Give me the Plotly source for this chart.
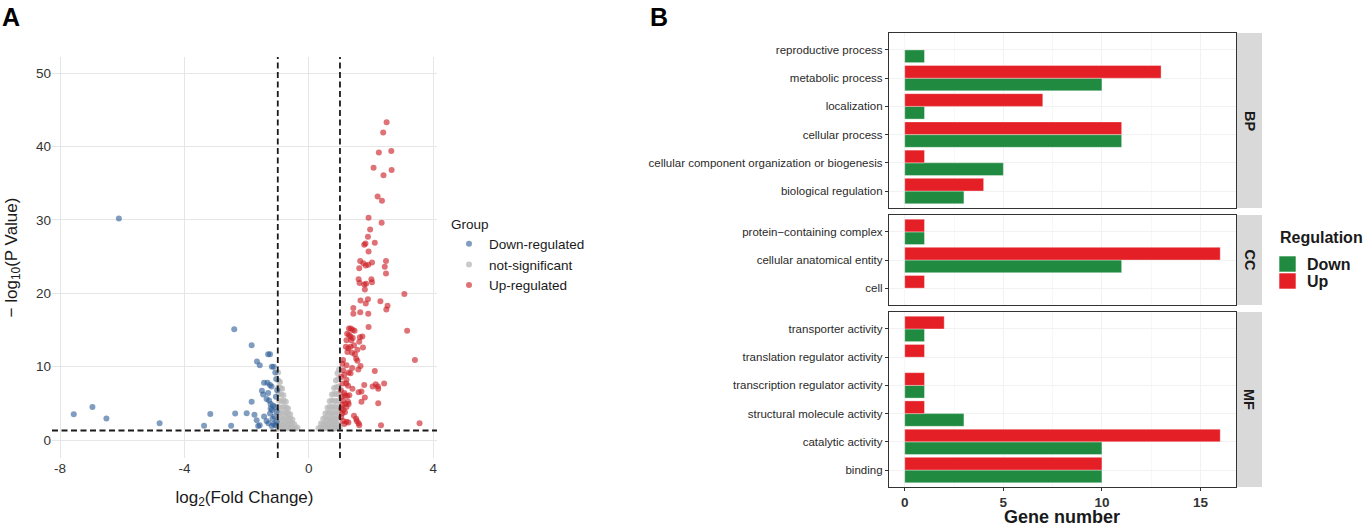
import plotly.graph_objects as go

# ---- panel A: volcano data (log2 fold change, -log10 p) ----
down_x = [-6.11, -7.56, -6.96, -6.51, -4.80, -3.37, -3.17, -2.40, -2.50, -2.37, -2.00, -1.84,
          -1.84, -1.67, -1.58, -1.75, -1.63, -1.31, -1.25, -1.19, -1.13, -1.08, -1.05, -1.44,
          -1.33, -1.25, -1.20, -1.51, -1.47, -1.36, -1.28, -1.23, -1.15, -1.08, -1.19, -1.25,
          -1.11, -1.44, -1.36, -1.30, -1.13, -1.04, -1.06, -1.02, -1.68, -1.58, -1.19, -1.08,
          -1.17, -1.04, -1.23, -1.31]
down_y = [30.2, 3.5, 4.5, 2.95, 2.3, 1.95, 3.55, 15.1, 1.95, 3.6, 3.65, 12.9,
          5.2, 10.7, 10.2, 3.45, 1.9, 11.7, 11.7, 10.0, 10.0, 9.2, 8.3, 7.8,
          7.8, 7.5, 7.3, 6.7, 6.2, 5.6, 5.4, 4.9, 4.7, 4.5, 4.1, 3.6,
          3.2, 3.2, 2.6, 2.3, 2.2, 2.5, 5.9, 6.8, 2.7, 2.0, 1.9, 2.0,
          2.9, 3.9, 4.3, 6.4]

ns_x = [-1.00, -0.93, -0.86, -0.79, -0.71, -0.64, -0.57, -0.50, -0.43, -0.37,
        -0.99, -0.91, -0.84, -0.76, -0.69, -0.61, -0.54, -0.47,
        -0.98, -0.90, -0.82, -0.75, -0.67, -0.60, -0.53,
        -0.97, -0.89, -0.81, -0.73, -0.66, -0.60,
        -0.97, -0.88, -0.80, -0.72, -0.67,
        -0.96, -0.88, -0.80, -0.74,
        -0.97, -0.89, -0.82,
        -0.98, -0.91, -0.86,
        -0.98, -0.93,
        -0.99,
        0.31, 0.38, 0.45, 0.52, 0.59, 0.66, 0.73, 0.80, 0.87, 0.94, 0.99,
        0.39, 0.46, 0.53, 0.60, 0.67, 0.74, 0.81, 0.88, 0.95,
        0.46, 0.53, 0.60, 0.67, 0.74, 0.81, 0.88, 0.95,
        0.53, 0.60, 0.67, 0.74, 0.81, 0.88, 0.96,
        0.60, 0.67, 0.74, 0.81, 0.88, 0.96,
        0.67, 0.74, 0.82, 0.89, 0.96,
        0.74, 0.82, 0.89, 0.96,
        0.81, 0.88, 0.95,
        0.87, 0.94,
        0.92, 0.97]
ns_y = [1.55, 1.70, 1.60, 1.75, 1.60, 1.65, 1.70, 1.55, 1.60, 1.70,
        2.20, 2.30, 2.15, 2.35, 2.25, 2.20, 2.30, 2.15,
        2.90, 3.00, 2.85, 3.00, 2.90, 2.95, 2.80,
        3.70, 3.60, 3.75, 3.65, 3.60, 3.50,
        4.50, 4.40, 4.55, 4.40, 4.30,
        5.40, 5.30, 5.35, 5.20,
        6.30, 6.20, 6.10,
        7.20, 7.10, 7.00,
        8.10, 7.90,
        9.20,
        1.60, 1.70, 1.55, 1.65, 1.75, 1.60, 1.70, 1.55, 1.65, 1.60, 1.70,
        2.25, 2.15, 2.30, 2.20, 2.35, 2.25, 2.20, 2.30, 2.15,
        2.90, 3.00, 2.85, 2.95, 3.00, 2.90, 2.85, 3.00,
        3.60, 3.70, 3.65, 3.75, 3.60, 3.70, 3.65,
        4.40, 4.50, 4.45, 4.55, 4.40, 4.50,
        5.30, 5.40, 5.35, 5.25, 5.40,
        6.20, 6.30, 6.25, 6.35,
        7.10, 7.20, 7.30,
        8.10, 8.30,
        9.10, 9.60]

up_x = [2.50, 2.39, 2.25, 2.65, 2.08, 2.66, 2.40, 2.21, 2.35, 1.92, 2.34, 1.97, 1.90, 1.78,
        2.12, 1.82, 1.92, 1.65, 2.48, 1.75, 1.83, 1.91, 2.03, 1.62, 2.44, 2.48, 1.60, 1.63,
        1.78, 1.84, 2.01, 2.03, 1.80, 3.07, 1.66, 1.90, 1.83, 2.30, 2.53, 2.49, 1.43, 1.43,
        1.65, 1.91, 1.92, 3.16, 1.29, 1.35, 1.41, 1.47, 1.23, 1.29, 1.34, 1.41, 1.64, 1.72,
        1.21, 1.36, 1.19, 1.27, 1.34, 1.45, 1.62, 1.74, 1.24, 1.39, 1.56, 1.48, 1.52, 1.56,
        3.41, 1.10, 1.08, 1.21, 1.66, 1.39, 1.59, 1.10, 1.28, 2.12, 1.14, 1.34, 1.04, 1.21,
        1.08, 1.20, 1.26, 1.78, 2.05, 2.15, 2.22, 2.42, 2.23, 1.40, 1.03, 1.14, 1.60, 1.05,
        1.16, 1.23, 1.30, 1.69, 1.10, 1.26, 1.80, 1.69, 2.23, 1.08, 1.17, 1.28, 1.04, 1.11,
        1.21, 1.07, 1.16, 1.04, 1.45, 1.52, 1.10, 1.21, 1.27, 1.54, 1.60, 1.62, 2.32, 3.56,
        1.14]
up_y = [43.3, 41.9, 39.2, 39.4, 37.1, 36.8, 36.1, 33.2, 32.6, 30.3, 29.6, 28.7, 27.7, 26.6,
        26.9, 26.8, 25.7, 24.4, 24.4, 24.1, 23.8, 23.9, 24.2, 23.4, 23.6, 22.7, 21.9, 21.4,
        21.2, 21.3, 21.9, 21.5, 20.5, 19.9, 19.0, 19.2, 18.6, 18.9, 18.3, 17.8, 18.0, 17.2,
        17.4, 17.2, 15.4, 14.9, 15.2, 15.2, 15.0, 14.9, 14.5, 14.3, 14.1, 13.9, 14.0, 14.1,
        13.6, 13.6, 12.7, 12.5, 12.7, 12.9, 13.4, 12.6, 12.0, 11.9, 12.3, 11.7, 11.1, 10.8,
        10.9, 10.9, 10.4, 10.2, 10.1, 9.8, 9.6, 9.5, 9.2, 9.4, 8.9, 9.1, 8.6, 8.2,
        7.7, 7.7, 7.4, 7.5, 7.3, 7.6, 7.3, 7.7, 7.0, 7.0, 6.8, 6.4, 6.5, 5.9,
        6.1, 6.0, 6.1, 6.6, 5.4, 5.2, 5.8, 5.2, 5.0, 4.8, 4.9, 4.9, 4.3, 4.1,
        4.5, 3.6, 3.8, 3.1, 3.3, 2.9, 2.6, 2.5, 2.4, 2.6, 2.3, 2.0, 2.0, 2.3,
        2.2]

group_names = ["Down-regulated", "not-significant", "Up-regulated"]
fc_cut = 1.0
p_cut = 1.3

# ---- panel B: GO categories (listed bottom to top) ----
bp_terms = ["biological regulation", "cellular component organization or biogenesis",
            "cellular process", "localization", "metabolic process", "reproductive process"]
bp_down = [3, 5, 11, 1, 10, 1]
bp_up = [4, 1, 11, 7, 13, 0]

cc_terms = ["cell", "cellular anatomical entity", "protein\u2212containing complex"]
cc_down = [0, 11, 1]
cc_up = [1, 16, 1]

mf_terms = ["binding", "catalytic activity", "structural molecule activity",
            "transcription regulator activity", "translation regulator activity",
            "transporter activity"]
mf_down = [10, 10, 3, 1, 0, 1]
mf_up = [10, 16, 1, 1, 1, 2]

reg_names = ["Down", "Up"]
reg_colors = ["#1F8A40", "#E41F26"]

FONT = "Liberation Sans, Arial, sans-serif"
W, H = 1365, 523


def px(x):
    return x / W


def py(y):
    return 1 - y / H


def main():
    fig = go.Figure()

    # volcano, grey first so coloured points sit on top
    fig.add_trace(go.Scatter(x=ns_x, y=ns_y, mode="markers", name=group_names[1],
                             legendrank=2,
                             marker=dict(size=6, color="#B8B8B8", opacity=0.75)))
    fig.add_trace(go.Scatter(x=down_x, y=down_y, mode="markers", name=group_names[0],
                             legendrank=1,
                             marker=dict(size=6, color="#2B5C96", opacity=0.6)))
    fig.add_trace(go.Scatter(x=up_x, y=up_y, mode="markers", name=group_names[2],
                             legendrank=3,
                             marker=dict(size=6, color="#CC1B22", opacity=0.62)))

    facets = [("BP", bp_terms, bp_down, bp_up, "2"),
              ("CC", cc_terms, cc_down, cc_up, "3"),
              ("MF", mf_terms, mf_down, mf_up, "4")]
    for label, terms, down, up, n in facets:
        for name, vals, col in zip(reg_names, [down, up], reg_colors):
            fig.add_trace(go.Bar(
                x=vals, y=terms, orientation="h", name=name, showlegend=False,
                marker=dict(color=col, line=dict(color="rgba(255,255,255,0.6)", width=0.6)),
                xaxis="x" + n, yaxis="y" + n,
            ))

    fig.update_layout(
        width=W, height=H,
        margin=dict(l=0, r=0, t=0, b=0, autoexpand=False),
        paper_bgcolor="white", plot_bgcolor="white",
        font=dict(family=FONT, color="#333333"),
        barmode="group", bargap=0.1, bargroupgap=0,
        showlegend=True,
        legend=dict(
            x=px(449), y=py(211), xanchor="left", yanchor="top",
            title=dict(text="Group", font=dict(size=13.5, color="#1A1A1A")),
            font=dict(size=13.5, color="#1A1A1A"),
            bgcolor="rgba(0,0,0,0)", itemsizing="trace",
        ),
    )

    # volcano axes
    fig.update_layout(
        xaxis=dict(domain=[px(52), px(437)], range=[-8.26, 4.12],
                   tickvals=[-8, -4, 0, 4], ticktext=["-8", "-4", "0", "4"],
                   showgrid=True, gridcolor="#E6E6E6", gridwidth=1, zeroline=False,
                   showline=False, ticks="", tickfont=dict(size=13.5, color="#333333"),
                   title=dict(text="log<sub>2</sub>(Fold Change)", standoff=16,
                              font=dict(size=17, color="#1A1A1A"))),
        yaxis=dict(domain=[py(458), py(57)], range=[-2.45, 52.2],
                   tickvals=[0, 10, 20, 30, 40, 50],
                   showgrid=True, gridcolor="#E6E6E6", gridwidth=1, zeroline=False,
                   showline=False, ticks="", tickfont=dict(size=13.5, color="#333333"),
                   title=dict(text="\u2212 log<sub>10</sub>(P Value)", standoff=14,
                              font=dict(size=17, color="#1A1A1A"))),
    )

    # bar facets
    rows = {"2": (33, 208, len(bp_terms)), "3": (215, 305, len(cc_terms)),
            "4": (312, 487, len(mf_terms))}
    for n, (top, bottom, k) in rows.items():
        last = n == "4"
        fig.layout["xaxis" + n] = dict(
            domain=[px(889), px(1236)], range=[-0.8, 16.8], anchor="y" + n,
            tickvals=[0, 5, 10, 15], showticklabels=last,
            ticks="outside" if last else "", ticklen=3, tickcolor="#333333",
            tickfont=dict(size=13.5, color="#333333", family=FONT, weight="bold"),
            showgrid=True, gridcolor="#F2F2F2", gridwidth=0.6, zeroline=False,
            minor=dict(dtick=2.5, tick0=0, showgrid=True, gridcolor="#F7F7F7"),
            showline=True, linecolor="#333333", linewidth=1.3, mirror=True,
        )
        fig.layout["yaxis" + n] = dict(
            domain=[py(bottom), py(top)], range=[-0.6, k - 0.4], anchor="x" + n,
            type="category", ticks="outside", ticklen=3, tickcolor="#333333",
            tickfont=dict(size=11.5, color="#2A2A2A"),
            showgrid=True, gridcolor="#F2F2F2", gridwidth=0.6,
            showline=True, linecolor="#333333", linewidth=1.3, mirror=True,
        )

    dash = dict(color="#1A1A1A", width=1.8, dash="6px,3.5px")
    shapes = [
        dict(type="line", xref="x", yref="y domain", x0=-fc_cut, x1=-fc_cut, y0=0, y1=1, line=dash),
        dict(type="line", xref="x", yref="y domain", x0=fc_cut, x1=fc_cut, y0=0, y1=1, line=dash),
        dict(type="line", xref="x domain", yref="y", x0=0, x1=1, y0=p_cut, y1=p_cut, line=dash),
    ]
    annotations = [
        dict(text="<b>A</b>", x=px(11), y=py(17), xref="paper", yref="paper",
             xanchor="center", yanchor="middle", showarrow=False,
             font=dict(size=25, color="black")),
        dict(text="<b>B</b>", x=px(659), y=py(17), xref="paper", yref="paper",
             xanchor="center", yanchor="middle", showarrow=False,
             font=dict(size=25, color="black")),
        # x title of the bar facets, placed by hand (axis title gets squeezed at the edge)
        dict(text="<b>Gene number</b>", x=px(1062), y=py(517), xref="paper", yref="paper",
             xanchor="center", yanchor="middle", showarrow=False,
             font=dict(size=18, color="#1A1A1A")),
    ]

    # facet strips
    for (label, *_rest), (top, bottom, k) in zip(facets, rows.values()):
        shapes.append(dict(type="rect", xref="paper", yref="paper",
                           x0=px(1237), x1=px(1262), y0=py(bottom), y1=py(top),
                           fillcolor="#D9D9D9", line=dict(width=0), layer="below"))
        annotations.append(dict(text="<b>%s</b>" % label, x=px(1249.5), y=py((top + bottom) / 2),
                                xref="paper", yref="paper", xanchor="center", yanchor="middle",
                                showarrow=False, textangle=90,
                                font=dict(size=14.5, color="#1A1A1A")))

    # Regulation legend (drawn by hand to match the ggplot key size)
    annotations.append(dict(text="<b>Regulation</b>", x=px(1278), y=py(238), xref="paper",
                            yref="paper", xanchor="left", yanchor="middle", showarrow=False,
                            font=dict(size=16, color="#1A1A1A")))
    for i, (name, col) in enumerate(zip(reg_names, reg_colors)):
        y0 = 256 + i * 17
        shapes.append(dict(type="rect", xref="paper", yref="paper",
                           x0=px(1279), x1=px(1296), y0=py(y0 + 16), y1=py(y0),
                           fillcolor=col, line=dict(color="white", width=0.6)))
        annotations.append(dict(text="<b>%s</b>" % name, x=px(1305), y=py(y0 + 8),
                                xref="paper", yref="paper", xanchor="left", yanchor="middle",
                                showarrow=False, font=dict(size=16, color="#1A1A1A")))

    fig.update_layout(shapes=shapes, annotations=annotations)
    # page body has a default 8px margin; drop it so the figure fills the window
    fig.write_html("out.html", config={"displayModeBar": False},
                   post_script="document.body.style.margin='0px';")


if __name__ == "__main__":
    main()
